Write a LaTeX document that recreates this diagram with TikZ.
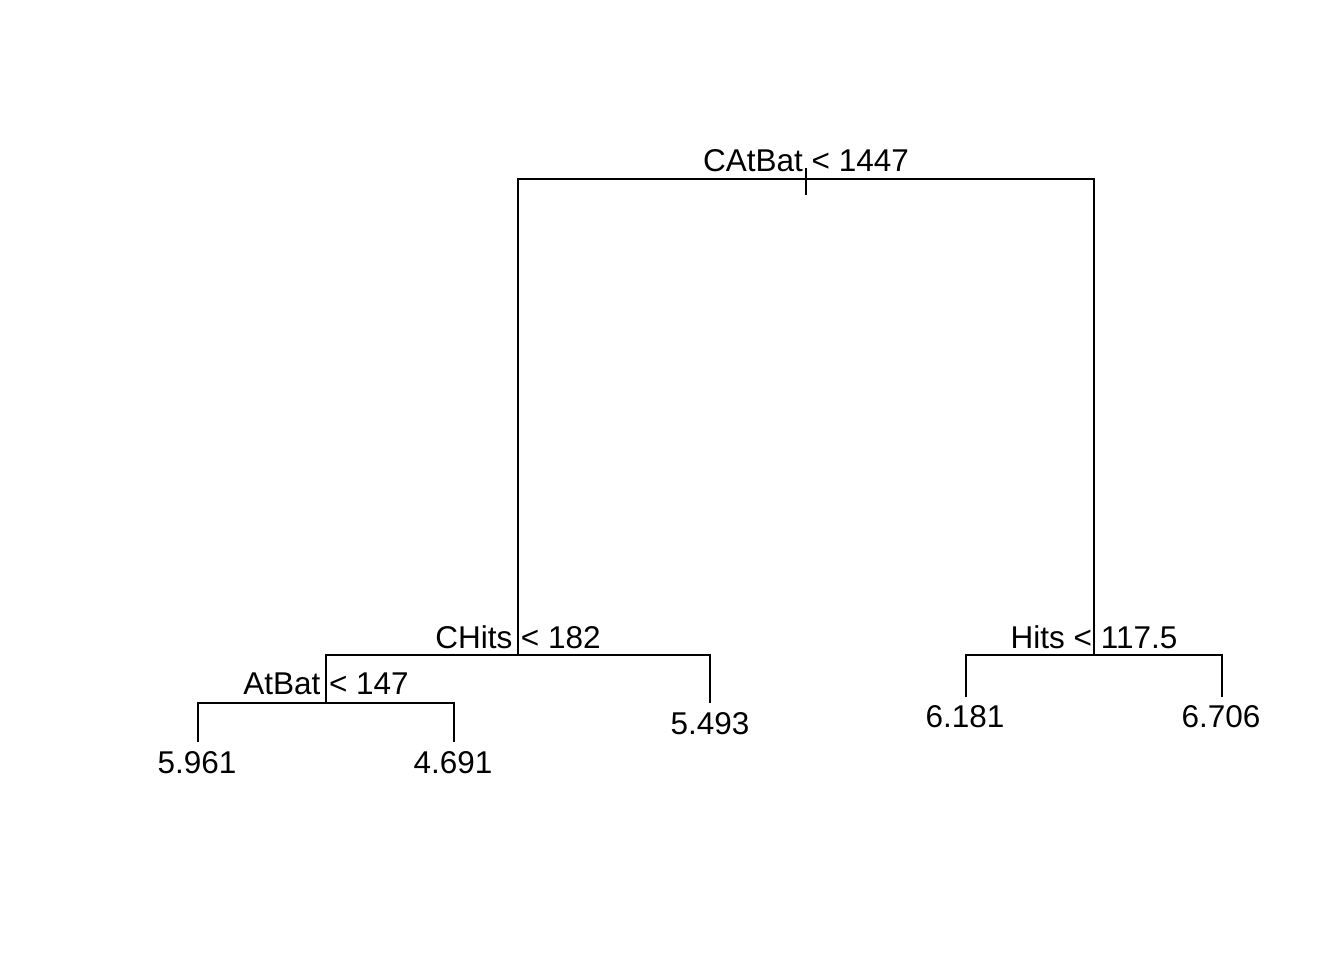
\documentclass[tikz,border=0pt]{standalone}
\usepackage{fontspec}
\setmainfont{Liberation Sans}
\begin{document}
\begin{tikzpicture}[x=1pt,y=-1pt,
  edge/.style={line width=2pt, line cap=butt},
  lbl/.style={anchor=base, inner sep=0pt, font=\fontsize{31.5}{36}\selectfont}]
\useasboundingbox (0,0) rectangle (1344,960);
% split points
\coordinate (root) at (806,179);
\coordinate (chits) at (518,655);
\coordinate (hits) at (1094,655);
\coordinate (atbat) at (326,703);
% leaf ends
\coordinate (e5493) at (710,703);
\coordinate (e5961) at (198,742);
\coordinate (e4691) at (454,742);
\coordinate (e6181) at (966,697);
\coordinate (e6706) at (1222,697);
% tree
\draw[edge] (chits) |- (root) -| (hits);
\draw[edge] (atbat) |- (chits) -| (e5493);
\draw[edge] (e5961) |- (atbat) -| (e4691);
\draw[edge] (e6181) |- (hits) -| (e6706);
\draw[edge] (806,168) -- (806,195);
% labels
\node[lbl] (lroot) at (806,172) {CAtBat < 1447};
\node[lbl] (lchits) at (518,648) {CHits < 182};
\node[lbl] (lhits) at (1094,648) {Hits < 117.5};
\node[lbl] (latbat) at (326,694) {AtBat < 147};
% leaves
\node[lbl] (l5493) at (710,734) {5.493};
\node[lbl] (l5961) at (197,773) {5.961};
\node[lbl] (l4691) at (453,773) {4.691};
\node[lbl] (l6181) at (965,727) {6.181};
\node[lbl] (l6706) at (1221,727) {6.706};
\end{tikzpicture}
\end{document}
